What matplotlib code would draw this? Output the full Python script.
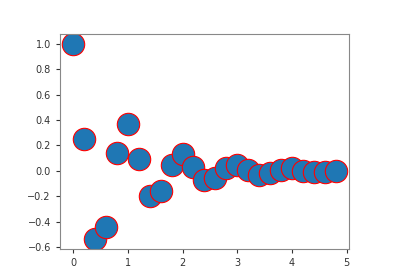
import matplotlib
matplotlib.use("Agg")
import matplotlib.pyplot as plt

x = [0.0, 0.2, 0.4, 0.6, 0.8, 1.0, 1.2, 1.4, 1.6, 1.8, 2.0, 2.2, 2.4,
     2.6, 2.8, 3.0, 3.2, 3.4, 3.6, 3.8, 4.0, 4.2, 4.4, 4.6, 4.8]
y = [1.0, 0.25, -0.54, -0.44, 0.14, 0.37, 0.09, -0.20, -0.16, 0.05,
     0.13, 0.03, -0.07, -0.06, 0.02, 0.05, 0.01, -0.03, -0.02, 0.01,
     0.02, 0.00, -0.01, -0.01, 0.00]

fig = plt.figure(figsize=(4, 2.8), dpi=100)
ax = fig.add_axes([0.15, 0.11, 0.722, 0.768])
ax.scatter(x, y, s=260, color="#1f77b4", edgecolors="red", linewidths=0.8)

for sp in ax.spines.values():
    sp.set_color("#888888")
ax.tick_params(labelsize=7, colors="#333333", length=3)
ax.set_yticks([-0.6, -0.4, -0.2, 0.0, 0.2, 0.4, 0.6, 0.8, 1.0])

fig.savefig("out.png")
